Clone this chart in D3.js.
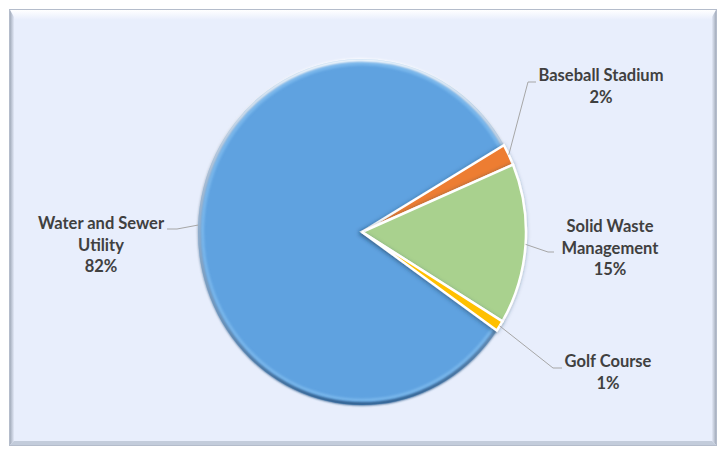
<!DOCTYPE html>
<html>
<head>
<meta charset="utf-8">
<script src="https://cdn.jsdelivr.net/npm/d3@7"></script>
<style>
  body { margin: 0; background: #ffffff; }
  svg { display: block; }
</style>
</head>
<body>
<script>
var W = 720, H = 449;

// data
var categories = ["Water and Sewer Utility", "Baseball Stadium", "Solid Waste Management", "Golf Course"];
var values = [82, 2, 15, 1];
var pctLabels = ["82%", "2%", "15%", "1%"];
var labelLines = [["Water and Sewer", "Utility"], ["Baseball Stadium"], ["Solid Waste", "Management"], ["Golf Course"]];
var colors = ["#5fa2e0", "#ed7d31", "#a9d18e", "#ffc000"];

// layout
var cx = 362, cy = 232, rx = 164, ry = 173;
var startDeg = 124.7;
// label text centre x, first baseline y, leader elbow and end
var labelPos = [
  {x: 101, y: 229, elbow: [177, 229], end: [167, 229]},
  {x: 601, y: 81,  elbow: [528, 82],  end: [536, 82]},
  {x: 610, y: 232, elbow: [548, 252], end: [554, 252]},
  {x: 608, y: 367, elbow: [553, 368], end: [562, 368]}
];
var lineH = 21.5;

var svg = d3.select("body").append("svg")
    .attr("width", W)
    .attr("height", H);

var defs = svg.append("defs");

var topGrad = defs.append("linearGradient").attr("id", "topBevel")
    .attr("x1", 0).attr("y1", 0).attr("x2", 0).attr("y2", 1);
topGrad.append("stop").attr("offset", "0%").attr("stop-color", "#ffffff");
topGrad.append("stop").attr("offset", "100%").attr("stop-color", "#e8eefc");

var sideGrad = defs.append("linearGradient").attr("id", "sideBevel")
    .attr("x1", 0).attr("y1", 0).attr("x2", 1).attr("y2", 0);
sideGrad.append("stop").attr("offset", "0%").attr("stop-color", "#a4adbc");
sideGrad.append("stop").attr("offset", "100%").attr("stop-color", "#e2e8f6");

var sideGradR = defs.append("linearGradient").attr("id", "sideBevelR")
    .attr("x1", 1).attr("y1", 0).attr("x2", 0).attr("y2", 0);
sideGradR.append("stop").attr("offset", "0%").attr("stop-color", "#a4adbc");
sideGradR.append("stop").attr("offset", "100%").attr("stop-color", "#e2e8f6");

var edgeGrad = defs.append("linearGradient").attr("id", "edgeGrad")
    .attr("x1", 0).attr("y1", 0).attr("x2", 0).attr("y2", 1);
edgeGrad.append("stop").attr("offset", "0%").attr("stop-color", "#ffffff");
edgeGrad.append("stop").attr("offset", "35%").attr("stop-color", "#b8c2d0");
edgeGrad.append("stop").attr("offset", "75%").attr("stop-color", "#6f8fb0");
edgeGrad.append("stop").attr("offset", "100%").attr("stop-color", "#2d5a88");

var blur = defs.append("filter").attr("id", "soft")
    .attr("x", "-10%").attr("y", "-10%").attr("width", "120%").attr("height", "120%");
blur.append("feGaussianBlur").attr("stdDeviation", 0.8);

var shadow = defs.append("filter").attr("id", "shadow")
    .attr("x", "-30%").attr("y", "-30%").attr("width", "160%").attr("height", "160%");
shadow.append("feDropShadow").attr("dx", -1).attr("dy", 1)
    .attr("stdDeviation", 2).attr("flood-color", "#1d3c5c").attr("flood-opacity", 0.55);

// chart frame
svg.append("rect")
    .attr("x", 10).attr("y", 10).attr("width", 706).attr("height", 435)
    .attr("fill", "#e8eefc");
svg.append("polygon").attr("points", "10,10 716,10 711,20 15,20").attr("fill", "url(#topBevel)");
svg.append("polygon").attr("points", "10,10 14,17 14,441 10,445").attr("fill", "url(#sideBevel)");
svg.append("polygon").attr("points", "716,10 712,17 712,441 716,445").attr("fill", "url(#sideBevelR)");
svg.append("polygon").attr("points", "10,445 14,441 712,441 716,445").attr("fill", "#c3ccdb");
svg.append("rect")
    .attr("x", 9.5).attr("y", 9.5).attr("width", 707).attr("height", 436)
    .attr("fill", "none").attr("stroke", "#b4bccb");

// pie
var pie = d3.pie().sort(null)
    .startAngle(startDeg * Math.PI / 180)
    .endAngle(startDeg * Math.PI / 180 + 2 * Math.PI);
var arcs = pie(values);

var r = rx;
var arc = d3.arc().innerRadius(0).outerRadius(r);
var rim = d3.arc().innerRadius(r - 2.5).outerRadius(r + 0.5);
var rimLight = d3.arc().innerRadius(r - 6).outerRadius(r - 3);

var g = svg.append("g")
    .attr("transform", "translate(" + cx + "," + cy + ") scale(1," + (ry / rx) + ")");

// big slice first, bevel on its outer rim
g.append("path")
    .attr("d", arc(arcs[0]))
    .attr("fill", colors[0]);
g.append("path")
    .attr("d", rimLight(arcs[0]))
    .attr("fill", "#8cc6f4")
    .attr("opacity", 0.6)
    .attr("filter", "url(#soft)");
g.append("path")
    .attr("d", rim(arcs[0]))
    .attr("fill", "url(#edgeGrad)")
    .attr("filter", "url(#soft)");

g.selectAll("path.small")
    .data(arcs.slice(1))
    .enter()
    .append("path")
    .attr("class", "small")
    .attr("d", arc)
    .attr("fill", function (d, i) { return colors[i + 1]; })
    .attr("stroke", "#ffffff")
    .attr("stroke-width", 2.5)
    .attr("vector-effect", "non-scaling-stroke")
    .attr("stroke-linejoin", "miter")
    .attr("filter", "url(#shadow)");

// leader lines and labels
function edgePoint(d) {
    var a = (d.startAngle + d.endAngle) / 2;
    return [cx + rx * Math.sin(a), cy - ry * Math.cos(a)];
}

svg.selectAll("polyline.leader")
    .data(arcs)
    .enter()
    .append("polyline")
    .attr("class", "leader")
    .attr("points", function (d, i) {
        var p = edgePoint(d), L = labelPos[i];
        return [p, L.elbow, L.end].map(function (q) { return q.join(","); }).join(" ");
    })
    .attr("fill", "none")
    .attr("stroke", "#a6a6a6")
    .attr("stroke-width", 1);

var labels = svg.selectAll("text.lbl")
    .data(arcs)
    .enter()
    .append("text")
    .attr("class", "lbl")
    .attr("text-anchor", "middle")
    .attr("font-family", "Lato, 'Open Sans', sans-serif")
    .attr("font-weight", "bold")
    .attr("font-size", 16.5)
    .attr("fill", "#404040");

labels.each(function (d, i) {
    var t = d3.select(this);
    var lines = labelLines[i].concat([pctLabels[i]]);
    lines.forEach(function (s, k) {
        t.append("tspan")
            .attr("x", labelPos[i].x)
            .attr("y", labelPos[i].y + k * lineH)
            .text(s);
    });
});
</script>
</body>
</html>
